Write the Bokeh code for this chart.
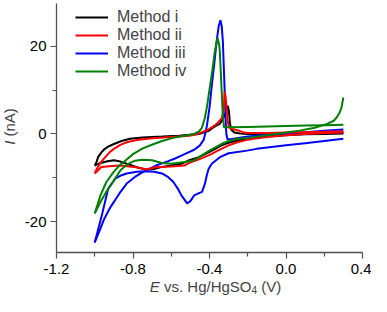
import math
from bokeh.plotting import figure
from bokeh.models import (FixedTicker, PrintfTickFormatter, Legend, LegendItem,
                          Label, Range1d)
from bokeh.embed import file_html
from bokeh.resources import INLINE

# ---------------- data ----------------
series_names = ["Method i", "Method ii", "Method iii", "Method iv"]
series_colors = ["#000000", "#ff0000", "#0000ff", "#008000"]

# Method i (black)
i_xa = [-1.0, -0.99, -0.983, -0.965, -0.95, -0.93, -0.9, -0.86, -0.816, -0.75, -0.648, -0.56,
        -0.506, -0.455, -0.405, -0.38, -0.36, -0.346, -0.33, -0.318, -0.31, -0.304, -0.298,
        -0.293, -0.285, -0.27, -0.24, -0.2, -0.1, 0.0, 0.1, 0.2, 0.3]
i_ya = [-7.2, -6.3, -5.3, -4.2, -3.5, -2.9, -2.3, -1.6, -1.1, -0.8, -0.6, -0.4,
        -0.2, 0.0, 0.7, 1.5, 2.0, 2.3, 3.4, 4.6, 5.6, 6.4, 5.0,
        2.3, 0.9, 0.3, 0.1, 0.0, 0.0, 0.1, 0.1, 0.2, 0.3]
i_xb = [-1.0, -0.97, -0.933, -0.9, -0.866, -0.833, -0.78, -0.732, -0.69, -0.648, -0.6, -0.547,
        -0.506, -0.455, -0.405, -0.37, -0.338, -0.3, -0.254, -0.2, -0.153, -0.1, 0.0, 0.1, 0.2, 0.3]
i_yb = [-7.2, -6.6, -6.2, -6.0, -6.3, -6.8, -7.6, -8.1, -8.0, -7.5, -7.2, -6.8,
        -6.0, -5.3, -4.2, -3.4, -2.6, -2.0, -1.5, -1.1, -0.8, -0.6, -0.3, -0.1, 0.0, 0.1]

# Method ii (red)
ii_xa = [-1.0, -0.99, -0.97, -0.95, -0.92, -0.9, -0.866, -0.833, -0.78, -0.7, -0.6, -0.506,
         -0.46, -0.439, -0.41, -0.388, -0.37, -0.355, -0.335, -0.326, -0.321, -0.316, -0.31,
         -0.305, -0.298, -0.28, -0.25, -0.22, -0.2, -0.1, 0.0, 0.1, 0.2, 0.3]
ii_ya = [-9.0, -8.0, -6.6, -5.5, -4.1, -3.4, -2.5, -1.9, -1.4, -1.0, -0.7, -0.4,
         0.0, 0.4, 0.9, 1.5, 2.0, 2.6, 3.6, 5.5, 9.7, 8.5, 5.5,
         3.0, 1.5, 1.1, 0.8, 0.3, 0.2, 0.2, 0.3, 0.4, 0.5, 0.6]
ii_xb = [-1.0, -0.967, -0.95, -0.91, -0.866, -0.82, -0.782, -0.732, -0.682, -0.6, -0.531,
         -0.506, -0.455, -0.405, -0.338, -0.3, -0.254, -0.2, -0.17, -0.1, 0.0, 0.1, 0.2, 0.3]
ii_yb = [-9.0, -7.6, -7.5, -7.3, -7.2, -7.4, -7.6, -8.1, -7.6, -7.4, -7.2,
         -6.6, -5.8, -4.9, -3.4, -2.6, -1.9, -1.3, -1.1, -0.7, -0.3, 0.0, 0.2, 0.3]

# Method iii (blue)
iii_xa = [-1.0, -0.97, -0.95, -0.917, -0.87, -0.833, -0.79, -0.749, -0.68, -0.615, -0.58, -0.53,
          -0.48, -0.45, -0.43, -0.42, -0.413, -0.4, -0.388, -0.375, -0.363, -0.352, -0.343,
          -0.336, -0.33, -0.325, -0.32, -0.316, -0.312, -0.306, -0.29, -0.2, -0.1, 0.0, 0.1, 0.2, 0.3]
iii_ya = [-24.7, -21.5, -19.3, -16.6, -13.5, -11.3, -9.8, -8.7, -7.2, -6.2, -5.6, -4.6,
          -3.6, -2.6, -1.3, 0.5, 2.0, 6.0, 11.0, 16.0, 21.0, 24.5, 25.9,
          24.5, 21.0, 15.0, 9.0, 3.5, 0.0, -1.2, -1.2, -0.6, -0.2, 0.1, 0.4, 0.7, 1.0]
iii_xb = [-1.0, -0.96, -0.93, -0.893, -0.86, -0.833, -0.78, -0.732, -0.69, -0.648, -0.62, -0.59,
          -0.565, -0.547, -0.517, -0.5, -0.48, -0.455, -0.439, -0.425, -0.414, -0.405, -0.388,
          -0.346, -0.3, -0.204, -0.153, 0.0, 0.1, 0.2, 0.3]
iii_yb = [-24.7, -18.0, -12.5, -10.2, -9.4, -9.0, -8.6, -8.5, -8.6, -9.0, -9.7, -10.9,
          -12.5, -14.0, -15.8, -15.3, -14.0, -13.5, -13.2, -11.5, -9.4, -8.0, -6.8,
          -5.3, -4.4, -3.8, -3.4, -2.6, -2.1, -1.6, -1.1]

# Method iv (green)
iv_xa = [-1.0, -0.97, -0.94, -0.9, -0.866, -0.833, -0.8, -0.749, -0.698, -0.648, -0.59, -0.531,
         -0.48, -0.455, -0.44, -0.425, -0.414, -0.397, -0.385, -0.372, -0.358, -0.35, -0.346,
         -0.338, -0.33, -0.324, -0.3, -0.2, -0.1, 0.0, 0.1, 0.2, 0.3]
iv_ya = [-18.1, -14.0, -11.0, -8.6, -7.0, -5.8, -4.6, -3.3, -2.4, -1.6, -0.9, -0.4,
         0.0, 0.6, 1.4, 3.5, 6.0, 11.0, 14.5, 18.8, 21.9, 20.5, 18.8,
         11.3, 3.8, 1.5, 1.5, 1.6, 1.7, 1.8, 1.9, 2.0, 2.1]
iv_xb = [-1.0, -0.97, -0.94, -0.9, -0.866, -0.833, -0.79, -0.749, -0.7, -0.65, -0.6, -0.53,
         -0.48, -0.455, -0.405, -0.338, -0.3, -0.254, -0.2, -0.1, 0.0, 0.07, 0.15, 0.215,
         0.25, 0.266, 0.28, 0.29, 0.3]
iv_yb = [-18.1, -15.5, -13.2, -10.6, -8.3, -7.0, -6.1, -5.9, -6.0, -6.6, -6.8, -6.4,
         -6.0, -5.3, -3.9, -2.3, -1.6, -1.1, -0.9, -0.3, 0.3, 0.75, 1.4, 2.3,
         3.0, 3.8, 4.8, 6.0, 8.3]

x_ticks = [-1.2, -0.8, -0.4, 0.0, 0.4]
x_minor = [-1.0, -0.6, -0.2, 0.2]
y_ticks = [-20, 0, 20]
y_minor = [-10, 10]

# ---------------- layout constants ----------------
W, H = 371, 296
PL, PR, PT, PB = 56, 9, 3, 44          # axis box inside the figure (pixels)
AX0, AX1 = -1.2, 0.4                   # x axis extent
AY0, AY1 = -27.0, 29.7                 # y axis extent
sx = (W - PL - PR) / (AX1 - AX0)       # px per x unit
sy = (H - PT - PB) / (AY1 - AY0)       # px per y unit
X0, X1 = AX0 - PL / sx, AX1 + PR / sx
Y0, Y1 = AY0 - PB / sy, AY1 + PT / sy

def xd(px):  # figure-pixel x -> data x
    return X0 + px / sx

def yd(py):  # figure-pixel y (from top) -> data y
    return Y1 - py / sy

p = figure(width=W, height=H, output_backend="svg", toolbar_location=None,
           x_range=Range1d(X0, X1), y_range=Range1d(Y0, Y1),
           min_border_left=0, min_border_right=0, min_border_top=0,
           min_border_bottom=0)
p.outline_line_color = None
p.grid.visible = False
p.background_fill_color = "white"

FONT = "Liberation Sans"
AXC = "#505050"
for ax in (p.xaxis[0], p.yaxis[0]):
    ax.axis_line_color = AXC
    ax.axis_line_width = 1.3
    ax.major_tick_line_color = AXC
    ax.minor_tick_line_color = AXC
    ax.major_tick_line_width = 1.2
    ax.minor_tick_line_width = 1.2
    ax.major_tick_out = 6
    ax.major_tick_in = 0
    ax.minor_tick_out = 4
    ax.minor_tick_in = 0
    ax.major_label_text_font = FONT
    ax.major_label_text_font_size = "15px"
    ax.major_label_text_color = "black"

p.xaxis[0].ticker = FixedTicker(ticks=x_ticks, minor_ticks=x_minor)
p.xaxis[0].formatter = PrintfTickFormatter(format="%.1f")
p.xaxis[0].major_label_standoff = 5
p.xaxis[0].fixed_location = AY0
p.xaxis[0].bounds = (AX0, AX1)
p.yaxis[0].ticker = FixedTicker(ticks=y_ticks, minor_ticks=y_minor)
p.yaxis[0].formatter = PrintfTickFormatter(format="%d")
p.yaxis[0].major_label_standoff = 4
p.yaxis[0].fixed_location = AX0
p.yaxis[0].bounds = (AY0, AY1)

data = [
    (i_xa, i_ya, i_xb, i_yb),
    (ii_xa, ii_ya, ii_xb, ii_yb),
    (iii_xa, iii_ya, iii_xb, iii_yb),
    (iv_xa, iv_ya, iv_xb, iv_yb),
]
renderers = {}
for idx in [0, 2, 1, 3]:
    xa, ya, xb, yb = data[idx]
    c = series_colors[idx]
    r1 = p.line(xa, ya, line_color=c, line_width=2)
    p.line(xb, yb, line_color=c, line_width=2)
    renderers[idx] = r1

legend = Legend(items=[LegendItem(label=series_names[k], renderers=[renderers[k]]) for k in range(4)],
                location=(75, H - 80), glyph_width=33, glyph_height=18, label_height=18,
                label_standoff=9, spacing=0, padding=0, margin=0,
                label_text_font=FONT, label_text_font_size="16px",
                border_line_alpha=0, background_fill_alpha=0)
p.add_layout(legend)

# x axis label: "E vs. Hg/HgSO4 (V)" with italic E and subscript 4
fs = 15
sp = 0.278 * fs
w_E = 0.667 * fs
w_mid = (6.113 - 0.278) * fs      # "vs. Hg/HgSO"
w_sub = 0.556 * 10
total = w_E + sp + w_mid + w_sub + sp + 1.333 * fs
start = 215 - total / 2
base = H - 10
p.add_layout(Label(x=xd(start), y=yd(base), text="E", text_font=FONT, text_font_size=f"{fs}px",
                   text_font_style="italic", text_baseline="alphabetic"))
x_mid = start + w_E + sp
p.add_layout(Label(x=xd(x_mid), y=yd(base), text="vs. Hg/HgSO", text_font=FONT,
                   text_font_size=f"{fs}px", text_baseline="alphabetic"))
x_sub = x_mid + w_mid
p.add_layout(Label(x=xd(x_sub), y=yd(base + 3), text="4", text_font=FONT,
                   text_font_size="10px", text_baseline="alphabetic"))
x_end = x_sub + w_sub + sp
p.add_layout(Label(x=xd(x_end), y=yd(base), text="(V)", text_font=FONT,
                   text_font_size=f"{fs}px", text_baseline="alphabetic"))

# y axis label: "I (nA)" with italic I, rotated
w_I = 0.278 * fs
w_rest = 1.889 * fs               # "(nA)"
ytot = w_I + sp + w_rest
ycenter = 126
ystart = ycenter + ytot / 2
lx = 9
p.add_layout(Label(x=xd(lx), y=yd(ystart), text="I", text_font=FONT, text_font_size=f"{fs}px",
                   text_font_style="italic", angle=math.pi / 2, text_baseline="middle",
                   text_align="left"))
p.add_layout(Label(x=xd(lx), y=yd(ystart - w_I - sp), text="(nA)", text_font=FONT,
                   text_font_size=f"{fs}px", angle=math.pi / 2, text_baseline="middle",
                   text_align="left"))

open("out.html", "w").write(file_html(p, INLINE))
